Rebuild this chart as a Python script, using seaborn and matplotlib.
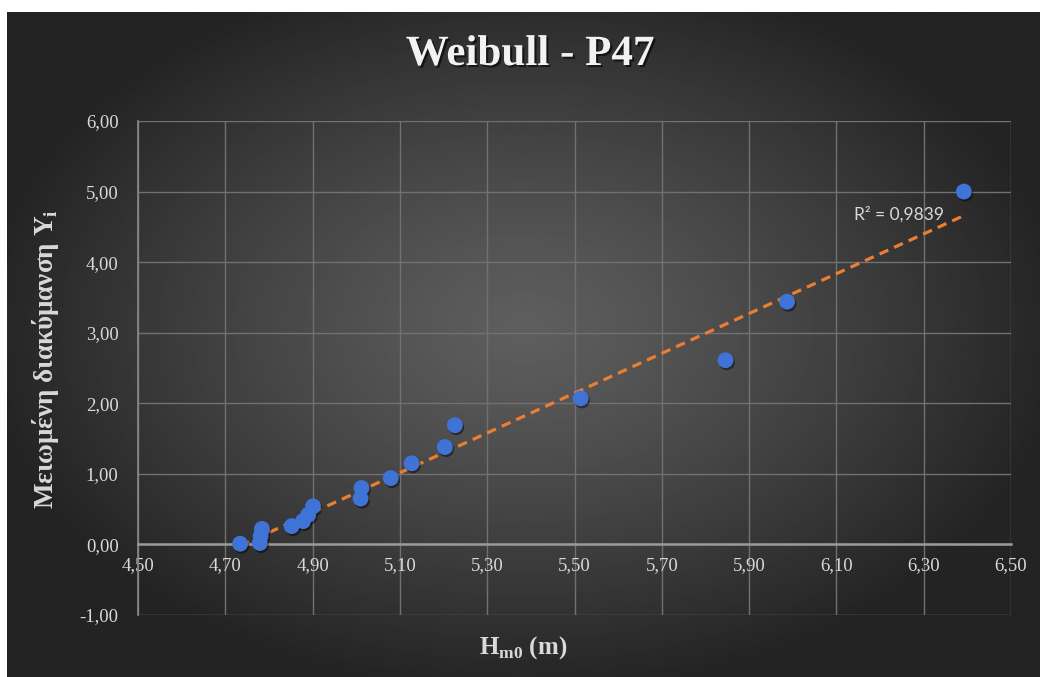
import numpy as np
import pandas as pd
import matplotlib
matplotlib.use("Agg")
import matplotlib.pyplot as plt
import matplotlib.patheffects as pe
from matplotlib.ticker import FuncFormatter, FixedLocator
import seaborn as sns

# ---------------------------------------------------------------------------
# Data
# ---------------------------------------------------------------------------
HM0 = [4.734, 4.784, 4.781, 4.779, 4.852, 4.878, 4.890, 4.901,
       5.012, 5.010, 5.079, 5.127, 5.203, 5.226, 5.514, 5.846, 5.987, 6.392]
YI = [0.01, 0.22, 0.12, 0.02, 0.26, 0.33, 0.42, 0.54,
      0.80, 0.65, 0.94, 1.15, 1.38, 1.69, 2.07, 2.61, 3.44, 5.00]
R2_VALUE = 0.9839

TITLE = "Weibull - P47"
XTICKS = [4.5, 4.7, 4.9, 5.1, 5.3, 5.5, 5.7, 5.9, 6.1, 6.3, 6.5]
YTICKS = [-1, 0, 1, 2, 3, 4, 5, 6]

TEXT_COL = "#d9d9d9"
GRID_COL = "#717171"
POINT_COL = "#3f73d6"
TREND_COL = "#ed7d31"
SERIF = "Liberation Serif"

df = pd.DataFrame({"Hm0": HM0, "Yi": YI})

sns.set_style("dark")
plt.rcParams["font.family"] = [SERIF, "DejaVu Serif"]
plt.rcParams["mathtext.fontset"] = "custom"
plt.rcParams["mathtext.rm"] = SERIF
plt.rcParams["mathtext.bf"] = SERIF + ":bold"

fig = plt.figure(figsize=(10.4, 6.77), dpi=100)
fig.patch.set_facecolor("white")

# radial grey gradient behind the chart area
bg = fig.add_axes([7 / 1040, 0, 1 - 7 / 1040, 1 - 12 / 677], zorder=0)
gx, gy = np.meshgrid(np.linspace(-1, 1, 400), np.linspace(-1, 1, 300))
r = np.clip(np.sqrt((gx / 1.05) ** 2 + ((gy + 0.05) / 1.1) ** 2), 0, 1)
shade = 0.37 - (0.37 - 0.14) * r ** 1.2
bg.imshow(shade, cmap="gray", vmin=0, vmax=1, aspect="auto",
          extent=[0, 1, 0, 1], interpolation="bilinear")
bg.set_axis_off()

ax = fig.add_axes([138 / 1040, 1 - 615 / 677, (1011 - 138) / 1040,
                   (615 - 121) / 677], zorder=1)
ax.set_facecolor("none")

sns.regplot(data=df, x="Hm0", y="Yi", ax=ax, scatter=False, ci=None,
            truncate=True,
            line_kws=dict(color=TREND_COL, lw=2.3, ls=(0, (3, 2)), zorder=3))
pts = ax.scatter(df["Hm0"], df["Yi"], s=130, color=POINT_COL,
                 edgecolor="none", zorder=4)
pts.set_path_effects([pe.SimplePatchShadow(offset=(1, -1.5),
                                           shadow_rgbFace="black", alpha=0.45),
                      pe.Normal()])

ax.set_xlim(XTICKS[0], XTICKS[-1])
ax.set_ylim(YTICKS[0], YTICKS[-1])
ax.xaxis.set_major_locator(FixedLocator(XTICKS))
ax.yaxis.set_major_locator(FixedLocator(YTICKS))
comma = FuncFormatter(lambda v, _: f"{v:.2f}".replace(".", ","))
ax.xaxis.set_major_formatter(comma)
ax.yaxis.set_major_formatter(comma)
ax.grid(True, color=GRID_COL, lw=1.0)
ax.set_axisbelow(True)

for side in ("top", "right"):
    ax.spines[side].set_visible(False)
ax.spines["left"].set_color("#8a8a8a")
ax.spines["left"].set_linewidth(1.2)
ax.spines["bottom"].set_position(("data", 0))
ax.spines["bottom"].set_color("#9a9a9a")
ax.spines["bottom"].set_linewidth(1.8)
ax.tick_params(axis="both", length=0, labelsize=13.5, labelcolor=TEXT_COL)
ax.tick_params(axis="x", pad=9)
ax.tick_params(axis="y", pad=14)
ax.set_xlabel("")
ax.set_ylabel("")

ax.text(6.14, 4.67, "R² = " + f"{R2_VALUE:.4f}".replace(".", ","),
        fontsize=12.5, color=TEXT_COL, family=["Lato", "DejaVu Sans"],
        ha="left", va="center", zorder=5)

shadow = [pe.withSimplePatchShadow(offset=(1.5, -1.5), shadow_rgbFace="black",
                                   alpha=0.6)]
fig.text(530 / 1040, 1 - 55 / 677, TITLE, fontsize=31, fontweight="bold",
         color="#f2f2f2", ha="center", va="center", path_effects=shadow)
fig.text(523 / 1040, 1 - 648 / 677, r"$\mathbf{H}_{\mathbf{m0}}$ (m)",
         fontsize=18, fontweight="bold", color=TEXT_COL,
         ha="center", va="center")
fig.text(46 / 1040, 1 - 359 / 677,
         r"Μειωμένη διακύμανση $\mathbf{Y}_{\mathbf{i}}$",
         fontsize=19.5, fontweight="bold", color=TEXT_COL, rotation=90,
         ha="center", va="center")

fig.savefig("out.png", dpi=100)
